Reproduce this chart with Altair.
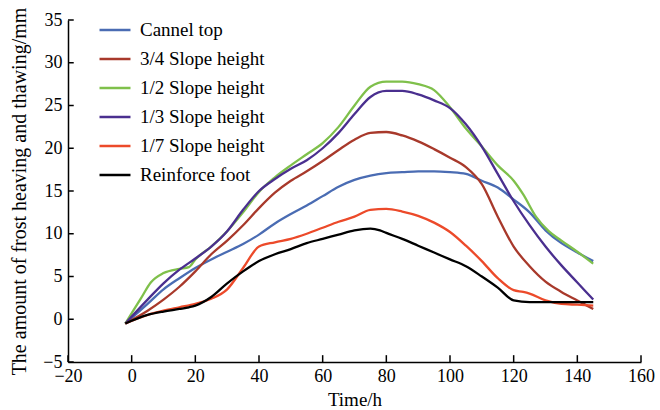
import altair as alt
import pandas as pd

series_names = ["Cannel top", "3/4 Slope height", "1/2 Slope height",
                "1/3 Slope height", "1/7 Slope height", "Reinforce foot"]
series_colors = ["#4a6cb3", "#a8392b", "#7fc04b", "#4a2f8f", "#ec4a2a", "#000000"]

x_common = [-2, 5, 10, 15, 20, 25, 30, 35, 40, 45, 50, 55, 60, 65, 70, 75, 80,
            85, 90, 95, 100, 105, 110, 115, 120, 125, 130, 135, 140, 145]

cannel_top = [-0.5, 1.8, 3.5, 4.8, 6.0, 7.0, 7.9, 8.8, 9.9, 11.2, 12.3, 13.3, 14.4,
              15.5, 16.3, 16.8, 17.1, 17.2, 17.3, 17.3, 17.2, 17.0, 16.2, 15.4,
              14.0, 12.5, 10.4, 8.9, 7.8, 6.8]
slope_3_4 = [-0.5, 1.0, 2.3, 3.8, 5.6, 7.6, 9.2, 11.0, 13.0, 14.8, 16.2, 17.3, 18.5,
             19.8, 21.0, 21.8, 21.9, 21.5, 20.8, 19.9, 18.9, 17.8, 15.8, 12.0, 8.5,
             6.2, 4.4, 3.2, 2.2, 1.2]
slope_1_3 = [-0.5, 2.3, 4.2, 5.8, 7.1, 8.5, 10.3, 12.8, 15.0, 16.4, 17.6, 18.6, 20.0,
             21.8, 24.0, 26.0, 26.7, 26.7, 26.3, 25.6, 24.7, 22.8, 20.2, 17.0, 13.8,
             11.0, 8.5, 6.3, 4.3, 2.3]

x_half = [-2, 3, 6, 10, 15, 18, 20, 25, 30, 35, 40, 45, 50, 55, 60, 65, 70, 75, 80,
          85, 90, 95, 100, 105, 110, 115, 120, 123, 127, 131, 135, 140, 145]
slope_1_2 = [-0.5, 2.5, 4.3, 5.4, 5.9, 6.1, 7.0, 8.5, 10.3, 12.5, 14.9, 16.6, 18.0,
             19.3, 20.6, 22.5, 25.0, 27.2, 27.8, 27.8, 27.5, 26.8, 24.8, 22.3, 20.2,
             18.0, 16.2, 14.6, 12.0, 10.3, 9.2, 7.9, 6.5]

x_seventh = [-2, 5, 10, 15, 20, 25, 30, 35, 40, 45, 50, 55, 60, 65, 70, 75, 80, 85,
             90, 95, 100, 105, 110, 115, 120, 123, 125, 130, 135, 140, 145]
slope_1_7 = [-0.5, 0.5, 1.0, 1.4, 1.8, 2.4, 3.5, 6.0, 8.5, 9.0, 9.4, 10.0, 10.7, 11.4,
             12.0, 12.8, 12.9, 12.6, 12.1, 11.3, 10.2, 8.6, 6.8, 4.8, 3.4, 3.2, 3.0,
             2.2, 1.8, 1.7, 1.6]

x_foot = [-2, 5, 10, 15, 18, 20, 25, 30, 35, 40, 45, 50, 55, 60, 65, 70, 75, 78, 80,
          85, 90, 95, 100, 105, 110, 115, 120, 125, 130, 135, 140, 145]
reinforce_foot = [-0.5, 0.5, 0.9, 1.2, 1.4, 1.6, 2.6, 4.2, 5.6, 6.8, 7.6, 8.2, 8.9,
                  9.4, 9.9, 10.4, 10.6, 10.4, 10.1, 9.4, 8.6, 7.8, 7.0, 6.2, 5.0, 3.7,
                  2.2, 2.0, 2.0, 2.0, 2.0, 2.0]

x_ticks = [-20, 0, 20, 40, 60, 80, 100, 120, 140, 160]
y_ticks = [-5, 0, 5, 10, 15, 20, 25, 30, 35]

rows = []
for name, xs, ys in [
    (series_names[0], x_common, cannel_top),
    (series_names[1], x_common, slope_3_4),
    (series_names[2], x_half, slope_1_2),
    (series_names[3], x_common, slope_1_3),
    (series_names[4], x_seventh, slope_1_7),
    (series_names[5], x_foot, reinforce_foot),
]:
    for xv, yv in zip(xs, ys):
        rows.append({"series": name, "time": xv, "value": yv})
df = pd.DataFrame(rows)

FONT = "Liberation Serif"
xscale = alt.Scale(domain=[-20, 160], nice=False, zero=False)
yscale = alt.Scale(domain=[-5, 35], nice=False, zero=False)

lines = alt.Chart(df).mark_line(strokeWidth=2.3, interpolate="monotone").encode(
    x=alt.X("time:Q", scale=xscale,
            axis=alt.Axis(title="Time/h", values=x_ticks, tickSize=0, labelPadding=5,
                          labelFont=FONT, labelFontSize=18, labelColor="black",
                          titleFont=FONT, titleFontSize=19, titleFontWeight="normal",
                          titleColor="black", titleBaseline="alphabetic", titleY=43,
                          domainColor="black", domainWidth=1.5, grid=False,
                          labelFlush=False)),
    y=alt.Y("value:Q", scale=yscale,
            axis=alt.Axis(title="The amount of frost heaving and thawing/mm",
                          values=y_ticks, tickSize=0, labelPadding=6,
                          labelFont=FONT, labelFontSize=18, labelColor="black",
                          titleFont=FONT, titleFontSize=20, titleFontWeight="normal",
                          titleColor="black", titleBaseline="middle", titleX=-49,
                          domainColor="black", domainWidth=1.5, grid=False,
                          labelFlush=False)),
    color=alt.Color("series:N", sort=series_names,
                    scale=alt.Scale(domain=series_names, range=series_colors),
                    legend=alt.Legend(title=None, orient="none", legendX=30, legendY=-7,
                                      symbolType="stroke", symbolSize=960,
                                      symbolStrokeWidth=2.5, labelFont=FONT,
                                      labelFontSize=19, labelColor="black",
                                      labelOffset=8, rowPadding=2, padding=0)),
    order=alt.Order("time:Q"),
)

xtick_df = pd.DataFrame({"t": x_ticks, "y0": [-5] * len(x_ticks),
                         "y1": [-4.2] * len(x_ticks)})
ytick_df = pd.DataFrame({"v": y_ticks, "x0": [-20] * len(y_ticks),
                         "x1": [-18.2] * len(y_ticks)})

xticks = alt.Chart(xtick_df).mark_rule(color="black", strokeWidth=1.5).encode(
    x=alt.X("t:Q", scale=xscale), y=alt.Y("y0:Q", scale=yscale), y2="y1:Q")
yticks = alt.Chart(ytick_df).mark_rule(color="black", strokeWidth=1.5).encode(
    y=alt.Y("v:Q", scale=yscale), x=alt.X("x0:Q", scale=xscale), x2="x1:Q")

chart = alt.layer(lines, xticks, yticks).properties(
    width=573, height=342,
    autosize=alt.AutoSizeParams(type="none"),
    padding={"left": 68, "top": 20, "right": 19, "bottom": 48},
    background="white",
).configure_view(stroke=None)

chart.save("out.html", embed_options={"renderer": "svg", "actions": False})
